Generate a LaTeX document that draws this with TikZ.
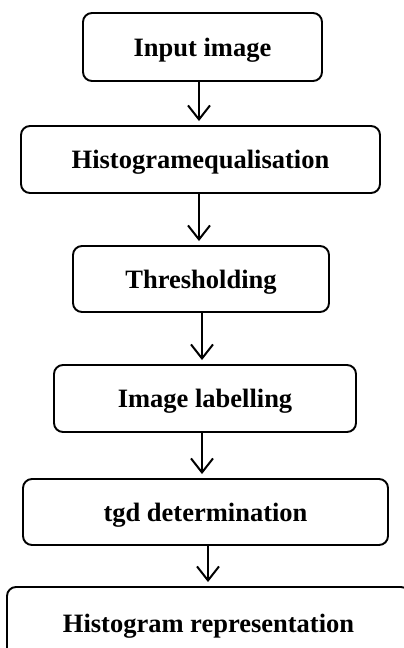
\documentclass[tikz,border=0pt]{standalone}
\usepackage{fontspec}
\setmainfont{Liberation Serif}
\usetikzlibrary{arrows.meta}
\tikzset{
  stepbox/.style={draw, line width=1.9pt, rounded corners=9pt, inner sep=0pt,
    font=\fontsize{26.5}{30}\selectfont\bfseries, text height=18pt, text depth=0pt,
    align=center},
  flowarrow/.style={line width=2pt, -{Straight Barb[length=14pt,width=22pt,line width=2pt]},
    shorten >=4pt}
}
\begin{document}
\begin{tikzpicture}[x=1pt,y=-1pt]
  \clip (0,0) rectangle (404,648);
  \useasboundingbox (0,0) rectangle (404,648);
  \node[stepbox, minimum width=239pt, minimum height=68pt] (b1) at (202.5,47) {Input image};
  \node[stepbox, minimum width=359pt, minimum height=67pt] (b2) at (200.5,159.5) {Histogramequalisation};
  \node[stepbox, minimum width=256pt, minimum height=66pt] (b3) at (201,279) {Thresholding};
  \node[stepbox, minimum width=302pt, minimum height=67pt] (b4) at (205,398.5) {Image labelling};
  \node[stepbox, minimum width=365pt, minimum height=66pt] (b5) at (205.5,512) {tgd determination};
  \node[stepbox, minimum width=403pt, minimum height=72pt] (b6) at (208.5,623) {Histogram representation};

  \draw[flowarrow] ([xshift=-3.5pt]b1.south) -- ([xshift=-1.5pt]b2.north);
  \draw[flowarrow] ([xshift=-1.5pt]b2.south) -- ([xshift=-2pt]b3.north);
  \draw[flowarrow] ([xshift=1pt]b3.south) -- ([xshift=-3pt]b4.north);
  \draw[flowarrow] ([xshift=-3pt]b4.south) -- ([xshift=-3.5pt]b5.north);
  \draw[flowarrow] ([xshift=2.5pt]b5.south) -- ([xshift=-0.5pt]b6.north);
\end{tikzpicture}
\end{document}
